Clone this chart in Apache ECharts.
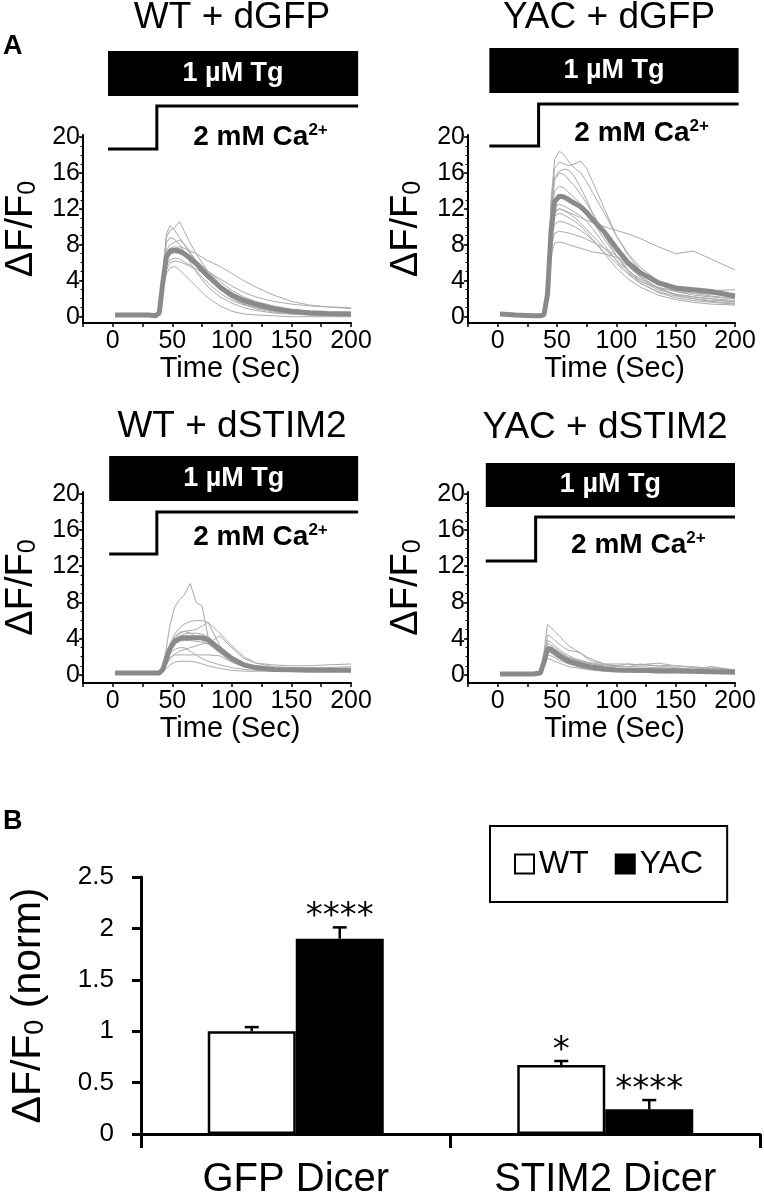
<!DOCTYPE html>
<html><head><meta charset="utf-8">
<script src="https://cdn.jsdelivr.net/npm/echarts@6/dist/echarts.min.js"></script>
<style>html,body{margin:0;padding:0;background:#fff}#c{width:764px;height:1200px}</style>
</head><body><div id="c"></div>
<script>
const FONT = '"Liberation Sans", Arial, Helvetica, sans-serif';

// ---------- Panel A data ----------
const time = [2, 15, 30, 36, 39, 42, 45, 48, 52, 56, 60, 65, 70, 75, 80, 90, 100, 110, 120, 135, 150, 165, 180, 200];
const panelTitles = ['WT + dGFP', 'YAC + dGFP', 'WT + dSTIM2', 'YAC + dSTIM2'];
const yTickValues = [0, 4, 8, 12, 16, 20];
const yMinorValues = [0,1,2,3,4,5,6,7,8,9,10,11,12,13,14,15,16,17,18,19,20];
const tgText = '1 µM Tg';
const caText = '2 mM Ca';
const caSup = '2+';
// stimulus timing (sec): Tg bar start/end, Ca2+ switch time
const tgStart = [-4, -7, -3, -10];
const tgEnd = [206, 203, 206, 200];
const caOn = [37, 34.5, 37, 32];

const wtGfpMean = [0.2,0.2,0.2,0.1,0.4,3.8,6.6,7.3,7.4,7.3,7.0,6.5,5.9,5.2,4.5,3.3,2.4,1.8,1.4,0.9,0.6,0.45,0.35,0.3];
const wtGfpTraces = [
  [0.3,0.2,0.3,0.2,0.6,4.5,8.8,9.6,9.9,10.6,9.5,8.2,7.0,6.0,5.0,3.6,2.5,1.8,1.3,0.8,0.5,0.4,0.3,0.3],
  [0.1,0.2,0.1,0.1,0.5,5.0,9.2,10.1,9.6,8.8,8.0,7.0,6.2,5.4,4.6,3.4,2.3,1.6,1.1,0.6,0.3,0.2,0.1,0.1],
  [0.2,0.3,0.2,0.2,0.4,3.0,6.0,7.2,7.6,7.8,7.6,7.3,7.0,6.6,6.2,5.6,4.8,4.0,3.3,2.4,1.7,1.3,1.1,0.9],
  [0.1,0.1,0.2,0.1,0.3,3.0,4.8,5.4,5.6,5.2,4.7,4.0,3.4,2.7,2.1,1.2,0.6,0.3,0.2,0.1,0.0,0.0,0.0,0.0],
  [0.2,0.2,0.2,0.2,0.4,3.5,5.8,6.3,6.5,6.4,6.1,5.7,5.1,4.4,3.7,2.6,1.8,1.3,1.0,0.7,0.5,0.4,0.3,0.3],
  [0.3,0.2,0.3,0.2,0.5,4.0,7.4,8.0,8.3,8.5,8.1,7.2,6.2,5.3,4.4,3.0,2.0,1.4,1.0,0.7,0.5,0.4,0.4,0.4],
  [0.1,0.2,0.2,0.1,0.4,3.6,6.4,7.0,7.1,7.0,6.9,6.6,6.2,5.7,5.1,3.9,2.9,2.2,1.7,1.2,0.8,0.6,0.5,0.5],
  [0.2,0.1,0.2,0.2,0.3,2.8,5.2,6.0,6.2,6.1,5.9,5.6,5.3,4.9,4.4,3.2,2.2,1.4,0.9,0.5,0.3,0.2,0.2,0.2],
  [0.3,0.3,0.3,0.3,0.5,3.9,7.0,7.6,7.8,7.5,7.2,6.6,6.0,5.5,5.0,4.2,3.4,2.7,2.2,1.7,1.4,1.2,1.1,1.0],
  [0.2,0.2,0.2,0.2,0.6,4.8,8.2,8.8,8.6,8.0,7.2,6.0,5.0,4.1,3.3,2.2,1.5,1.0,0.7,0.4,0.3,0.2,0.2,0.2]
];

const yacGfpMean = [0.3,0.2,0.1,0.1,0.2,2.5,9.5,12.8,13.4,13.3,13.0,12.6,12.2,11.6,10.8,9.4,7.6,6.0,4.9,3.8,3.2,3.0,2.8,2.3];
const yacGfpTraces = [
  [0.2,0.2,0.1,0.1,0.3,3.5,13.0,17.5,18.4,18.0,17.2,16.5,16.0,15.0,13.8,11.5,9.0,7.0,5.5,4.0,3.2,2.8,2.5,2.2],
  [0.3,0.2,0.2,0.1,0.2,3.0,12.5,16.5,17.2,17.0,16.8,17.0,17.3,16.5,15.0,12.0,9.0,6.8,5.2,3.8,3.0,2.6,2.3,2.0],
  [0.2,0.2,0.1,0.1,0.2,2.8,11.5,15.2,16.0,15.8,15.2,14.5,13.6,12.6,11.5,9.3,7.3,5.6,4.4,3.2,2.5,2.2,2.0,1.6],
  [0.3,0.3,0.2,0.2,0.3,2.5,9.0,11.5,12.0,11.8,11.6,11.3,11.0,10.7,10.5,10.0,9.6,9.2,8.7,7.8,7.0,7.3,6.4,5.2],
  [0.2,0.2,0.2,0.1,0.2,2.6,9.5,11.8,12.0,11.8,11.5,11.0,10.4,9.7,9.0,7.6,6.3,5.1,4.2,3.3,2.8,2.6,2.5,2.4],
  [0.3,0.2,0.2,0.2,0.3,2.4,9.0,11.2,11.5,11.3,11.0,10.6,10.1,9.4,8.6,7.0,5.4,4.2,3.3,2.4,1.9,1.6,1.4,1.3],
  [0.2,0.2,0.1,0.1,0.2,2.2,7.8,9.3,9.5,9.4,9.3,9.1,8.9,8.6,8.3,7.6,6.8,5.8,4.8,3.6,2.8,2.4,2.2,2.0],
  [0.2,0.1,0.1,0.1,0.2,1.8,6.8,8.2,8.3,8.2,8.0,7.8,7.6,7.4,7.2,7.0,6.6,5.6,4.5,3.2,2.4,2.0,1.7,1.5],
  [0.3,0.3,0.2,0.2,0.3,3.0,11.0,14.0,14.5,14.3,13.8,13.2,12.5,11.6,10.6,8.6,6.8,5.2,4.0,3.0,2.5,2.2,2.0,1.8],
  [0.2,0.2,0.2,0.1,0.2,3.2,12.0,15.5,16.2,16.4,16.3,15.5,14.3,13.0,11.5,9.0,6.8,5.0,3.8,2.7,2.1,1.8,1.6,1.4],
  [0.2,0.2,0.1,0.1,0.2,2.4,8.5,10.3,10.6,10.5,10.3,10.0,9.6,9.1,8.5,7.2,5.9,4.8,4.0,3.2,2.9,2.8,2.9,3.0],
  [0.3,0.2,0.2,0.1,0.2,2.7,9.8,12.2,12.5,12.3,12.0,11.6,11.2,10.6,9.8,8.0,6.2,4.7,3.7,2.8,2.3,2.0,1.8,1.7]
];

const wtStimMean = [0.2,0.2,0.2,0.2,0.2,0.6,1.8,2.9,3.7,4.0,4.1,4.1,4.1,4.1,3.9,2.8,1.8,1.1,0.8,0.6,0.55,0.5,0.5,0.5];
const wtStimTraces = [
  [0.1,0.2,0.2,0.1,0.2,0.8,3.0,5.5,7.5,8.3,8.8,10.1,8.0,7.6,4.2,3.0,2.0,1.3,0.9,0.7,0.6,0.6,0.6,0.6],
  [0.2,0.2,0.2,0.2,0.3,0.7,2.0,3.4,4.5,5.2,5.6,5.9,6.0,6.0,5.8,4.6,3.2,2.0,1.3,0.9,0.8,0.8,0.8,0.9],
  [0.2,0.2,0.2,0.2,0.2,0.6,1.8,3.0,4.0,4.6,4.8,4.9,5.0,5.4,5.8,3.2,2.0,1.3,0.9,0.7,0.6,0.6,0.6,0.6],
  [0.2,0.1,0.2,0.1,0.2,0.5,1.6,2.8,3.8,4.3,4.5,4.6,4.6,4.5,4.2,3.0,1.8,1.1,0.8,0.6,0.5,0.5,0.5,0.5],
  [0.2,0.2,0.2,0.2,0.2,0.5,1.2,1.9,2.2,2.2,2.2,2.2,2.2,2.2,2.2,2.1,1.4,0.9,0.7,0.6,0.6,0.6,0.7,0.7],
  [0.1,0.1,0.1,0.1,0.2,0.3,0.7,1.1,1.4,1.5,1.5,1.5,1.4,1.2,1.0,0.7,0.5,0.4,0.4,0.4,0.4,0.4,0.4,0.4],
  [0.2,0.2,0.2,0.2,0.2,0.6,1.6,2.4,2.8,3.0,3.0,2.6,2.2,1.8,1.5,1.1,0.8,0.6,0.5,0.5,0.5,0.5,0.5,0.5],
  [0.2,0.2,0.2,0.2,0.3,0.7,2.0,3.3,4.2,4.7,4.8,4.6,4.2,3.8,3.5,4.3,3.0,1.8,1.3,1.1,1.0,1.0,1.1,1.2],
  [0.2,0.2,0.2,0.2,0.2,0.5,1.5,2.6,3.4,3.7,3.8,3.8,3.7,3.6,3.4,2.4,1.4,0.9,0.7,0.5,0.5,0.5,0.5,0.5],
  [0.1,0.2,0.1,0.1,0.2,0.4,1.1,1.8,2.3,2.6,2.8,3.0,3.2,3.4,3.5,2.6,1.6,1.0,0.7,0.6,0.5,0.5,0.5,0.5]
];

const yacStimMean = [0.1,0.1,0.1,0.2,1.4,2.9,2.8,2.5,2.1,1.8,1.5,1.3,1.1,0.95,0.85,0.65,0.55,0.5,0.5,0.45,0.45,0.4,0.35,0.3];
const yacStimTraces = [
  [0.1,0.1,0.1,0.2,2.5,5.6,5.2,4.8,4.3,3.7,3.2,2.8,2.4,2.0,1.7,1.2,1.0,0.9,0.9,0.8,0.7,0.6,0.6,0.5],
  [0.1,0.1,0.2,0.2,2.0,4.4,4.2,3.8,3.4,3.0,2.7,2.6,2.4,1.8,1.5,1.2,1.2,1.2,1.1,1.0,1.0,0.9,0.7,0.6],
  [0.1,0.1,0.1,0.1,1.6,3.5,3.3,3.0,2.6,2.2,1.9,1.6,1.4,1.2,1.0,0.8,0.7,0.6,0.6,0.5,0.5,0.4,0.4,0.3],
  [0.1,0.1,0.1,0.2,1.5,3.2,3.1,2.8,2.5,2.2,1.9,1.7,1.5,1.3,1.2,1.0,0.9,0.9,1.2,1.0,0.8,0.6,0.9,0.5],
  [0.1,0.1,0.1,0.1,1.2,2.5,2.4,2.1,1.8,1.5,1.3,1.1,0.9,0.8,0.7,0.5,0.4,0.4,0.3,0.3,0.3,0.3,0.2,0.2],
  [0.1,0.1,0.1,0.1,0.9,1.8,1.7,1.5,1.3,1.1,0.9,0.8,0.7,0.6,0.5,0.4,0.3,0.3,0.3,0.2,0.2,0.2,0.2,0.2],
  [0.1,0.1,0.1,0.2,1.8,3.8,3.6,3.2,2.8,2.4,2.1,1.8,1.6,1.4,1.2,0.9,0.7,0.6,0.5,0.5,0.5,0.4,0.4,0.4],
  [0.1,0.1,0.1,0.1,1.4,3.0,2.9,2.6,2.3,2.0,1.8,1.6,1.5,1.4,1.3,1.1,1.0,1.2,1.1,1.3,1.0,0.8,0.7,0.5],
  [0.1,0.1,0.1,0.1,1.1,2.2,2.1,1.9,1.6,1.4,1.2,1.0,0.8,0.7,0.6,0.5,0.4,0.4,0.3,0.3,0.3,0.3,0.3,0.2],
  [0.1,0.1,0.1,0.2,1.3,2.8,2.7,2.5,2.2,1.9,1.7,1.5,1.3,1.1,1.0,0.8,0.7,0.7,0.7,0.6,0.6,0.6,0.9,0.5]
];

const panelMeans = [wtGfpMean, yacGfpMean, wtStimMean, yacStimMean];
const panelTraces = [wtGfpTraces, yacGfpTraces, wtStimTraces, yacStimTraces];

// ---------- Panel B data ----------
const barCategories = ['GFP Dicer', 'STIM2 Dicer'];
const seriesNames = ['WT', 'YAC'];
const wtValues = [1.00, 0.67];
const wtErrors = [0.04, 0.04];
const yacValues = [1.90, 0.24];
const yacErrors = [0.11, 0.09];
const wtSig = ['', '*'];
const yacSig = ['****', '****'];

// ---------- layout ----------
const layout = [
  {grid: {left: 83, top: 135, width: 268, height: 188}, yMin: -0.7, yMax: 20.2,
   ann: {barTop: -84, barBot: -39, high: -29, low: 14, ca: 2}, title: [232, 18]},
  {grid: {left: 468, top: 135, width: 267, height: 188}, yMin: -0.7, yMax: 20.2,
   ann: {barTop: -87, barBot: -42, high: -31, low: 11, ca: -2}, title: [609, 18]},
  {grid: {left: 83, top: 492, width: 268, height: 191}, yMin: -0.9, yMax: 20.2,
   ann: {barTop: -36, barBot: 9, high: 20, low: 62, ca: 45}, title: [232, 427]},
  {grid: {left: 468, top: 492, width: 267, height: 191}, yMin: -0.9, yMax: 20.2,
   ann: {barTop: -29, barBot: 15, high: 25, low: 69, ca: 53}, title: [605, 428]}
];
const gridB = {left: 135, top: 877, width: 625, height: 261};
const BAR_W = 88;

const grids = [], xAxes = [], yAxes = [], series = [], graphics = [];
const yNameRich = {
  a: {fontSize: 38, fontFamily: FONT, color: '#000'},
  s: {fontSize: 25, fontFamily: FONT, color: '#000', verticalAlign: 'bottom', lineHeight: 12}
};

layout.forEach((L, i) => {
  grids.push(Object.assign({containLabel: false}, L.grid));
  xAxes.push({
    gridIndex: i, type: 'value', min: -25, max: 200, interval: 25,
    axisLine: {show: true, onZero: false, lineStyle: {color: '#000', width: 2}},
    axisTick: {show: true, length: 4, lineStyle: {color: '#000', width: 1.5}},
    splitLine: {show: false},
    axisLabel: {fontSize: 25, fontFamily: FONT, color: '#000', margin: 6,
      formatter: v => (v >= 0 && v % 50 === 0) ? String(v) : ''},
    name: 'Time (Sec)', nameLocation: 'middle', nameGap: 30,
    nameTextStyle: {fontSize: 29, fontFamily: FONT, color: '#000', padding: [0, 0, 0, 26]}
  });
  yAxes.push({
    gridIndex: i, type: 'value', position: 'left', min: L.yMin, max: L.yMax,
    axisLine: {show: true, onZero: false, lineStyle: {color: '#000', width: 2}},
    axisTick: {show: true, length: 4, customValues: yTickValues, lineStyle: {color: '#000', width: 1.5}},
    axisLabel: {fontSize: 25, fontFamily: FONT, color: '#000', margin: 3, customValues: yTickValues},
    splitLine: {show: false},
    name: '{a|ΔF/F}{s|0}', nameLocation: 'middle', nameGap: 42, nameRotate: 90,
    nameTextStyle: {rich: yNameRich}
  });
  yAxes.push({
    gridIndex: i, type: 'value', position: 'left', offset: 0, min: L.yMin, max: L.yMax,
    axisLine: {show: false, onZero: false},
    axisTick: {show: true, length: 2.5, customValues: yMinorValues, lineStyle: {color: '#000', width: 1}},
    axisLabel: {show: false}, splitLine: {show: false}
  });
  panelTraces[i].forEach(tr => {
    series.push({
      type: 'line', xAxisIndex: i, yAxisIndex: 2 * i, silent: true, symbol: 'none', z: 2,
      data: time.map((t, k) => [t, tr[k]]),
      lineStyle: {color: '#aaaaaa', width: 1}
    });
  });
  series.push({
    type: 'line', xAxisIndex: i, yAxisIndex: 2 * i, silent: true, symbol: 'none', z: 3,
    data: time.map((t, k) => [t, panelMeans[i][k]]),
    lineStyle: {color: '#8a8a8a', width: 5}
  });
  const A = L.ann;
  series.push({
    type: 'custom', xAxisIndex: i, yAxisIndex: 2 * i, silent: true, clip: false, z: 4,
    data: [[tgStart[i], tgEnd[i], caOn[i]]],
    encode: {x: [0, 1, 2]},
    renderItem: (params, api) => {
      const top = params.coordSys.y;
      const x0 = api.coord([api.value(0), 0])[0];
      const x1 = api.coord([api.value(1), 0])[0];
      const xc = api.coord([api.value(2), 0])[0];
      return {type: 'group', children: [
        {type: 'rect', shape: {x: x0, y: top + A.barTop, width: x1 - x0, height: A.barBot - A.barTop},
         style: {fill: '#000'}},
        {type: 'text', x: (x0 + x1) / 2, y: top + (A.barTop + A.barBot) / 2,
         style: {text: tgText, fill: '#fff', font: 'bold 27px ' + FONT, align: 'center', verticalAlign: 'middle'}},
        {type: 'polyline', shape: {points: [[x0, top + A.low], [xc, top + A.low], [xc, top + A.high], [x1, top + A.high]]},
         style: {stroke: '#000', lineWidth: 3, fill: null}},
        {type: 'text', x: (xc + x1) / 2 + 3, y: top + A.ca,
         style: {text: '{b|' + caText + '}{p|' + caSup + '}', align: 'center', verticalAlign: 'middle',
           rich: {
             b: {fontSize: 28, fontWeight: 'bold', fontFamily: FONT, fill: '#000', lineHeight: 30},
             p: {fontSize: 17, fontWeight: 'bold', fontFamily: FONT, fill: '#000', verticalAlign: 'top', lineHeight: 18}
           }}}
      ]};
    }
  });
  graphics.push({type: 'text', x: L.title[0], y: L.title[1],
    style: {text: panelTitles[i], font: '37px ' + FONT, fill: '#000', align: 'center', verticalAlign: 'middle'}});
});

// Panel B
grids.push(Object.assign({containLabel: false}, gridB));
xAxes.push({
  gridIndex: 4, type: 'category', data: barCategories,
  axisLine: {show: true, lineStyle: {color: '#000', width: 3}},
  axisTick: {show: true, length: 14, lineStyle: {color: '#000', width: 3}},
  axisLabel: {fontSize: 40, fontFamily: FONT, color: '#000', margin: 26},
  splitLine: {show: false}
});
yAxes.push({
  gridIndex: 4, type: 'value', min: 0, max: 2.5, interval: 0.5,
  axisLine: {show: true, lineStyle: {color: '#000', width: 3}},
  axisTick: {show: true, length: 9, lineStyle: {color: '#000', width: 3}},
  axisLabel: {fontSize: 26, fontFamily: FONT, color: '#000', margin: 27},
  splitLine: {show: false},
  name: '{a|ΔF/F}{s|0}{a| (norm)}', nameLocation: 'middle', nameGap: 92, nameRotate: 90,
  nameTextStyle: {rich: {
    a: {fontSize: 41, fontFamily: FONT, color: '#000'},
    s: {fontSize: 27, fontFamily: FONT, color: '#000', verticalAlign: 'bottom', lineHeight: 12}
  }}
});
const yB = yAxes.length - 1;
series.push({
  type: 'bar', name: seriesNames[0], xAxisIndex: 4, yAxisIndex: yB, data: wtValues,
  barWidth: BAR_W, barGap: '0%', z: 2,
  itemStyle: {color: '#fff', borderColor: '#000', borderWidth: 2.5}
});
series.push({
  type: 'bar', name: seriesNames[1], xAxisIndex: 4, yAxisIndex: yB, data: yacValues,
  barWidth: BAR_W, barGap: '0%', z: 2,
  itemStyle: {color: '#000', borderColor: '#000', borderWidth: 0}
});
function errSeries(vals, errs, sig, dx) {
  return {
    type: 'custom', xAxisIndex: 4, yAxisIndex: yB, silent: true, z: 5, clip: false,
    data: vals.map((v, k) => [k, v, errs[k]]),
    renderItem: (params, api) => {
      const k = api.value(0);
      const p0 = api.coord([k, api.value(1)]);
      const p1 = api.coord([k, api.value(1) + api.value(2)]);
      const x = p0[0] + dx;
      return {type: 'group', children: [
        {type: 'line', shape: {x1: x, y1: p0[1], x2: x, y2: p1[1]}, style: {stroke: '#000', lineWidth: 2.5}},
        {type: 'line', shape: {x1: x - 7, y1: p1[1], x2: x + 7, y2: p1[1]}, style: {stroke: '#000', lineWidth: 2.5}},
        {type: 'text', x: x, y: p1[1] - 10,
         style: {text: sig[params.dataIndex], font: '34px "DejaVu Sans", sans-serif', fill: '#000', align: 'center', verticalAlign: 'middle'}}
      ]};
    }
  };
}
series.push(errSeries(wtValues, wtErrors, wtSig, -BAR_W / 2));
series.push(errSeries(yacValues, yacErrors, yacSig, BAR_W / 2));

graphics.push({type: 'text', x: 3, y: 47, style: {text: 'A', font: 'bold 27px ' + FONT, fill: '#000', align: 'left', verticalAlign: 'middle'}});
graphics.push({type: 'text', x: 3, y: 822, style: {text: 'B', font: 'bold 27px ' + FONT, fill: '#000', align: 'left', verticalAlign: 'middle'}});

const chart = echarts.init(document.getElementById('c'), null, {renderer: 'canvas'});
chart.setOption({
  animation: false,
  backgroundColor: '#fff',
  grid: grids, xAxis: xAxes, yAxis: yAxes, series: series, graphic: graphics,
  legend: {
    data: seriesNames, left: 490, top: 826, orient: 'horizontal',
    itemWidth: 19, itemHeight: 19, itemGap: 26, icon: 'rect',
    textStyle: {fontSize: 32, fontFamily: FONT, color: '#000'},
    borderColor: '#000', borderWidth: 2, padding: [22, 24, 22, 24],
    itemStyle: {borderWidth: 2, borderColor: '#000'},
    selectedMode: false
  }
});
</script></body></html>
